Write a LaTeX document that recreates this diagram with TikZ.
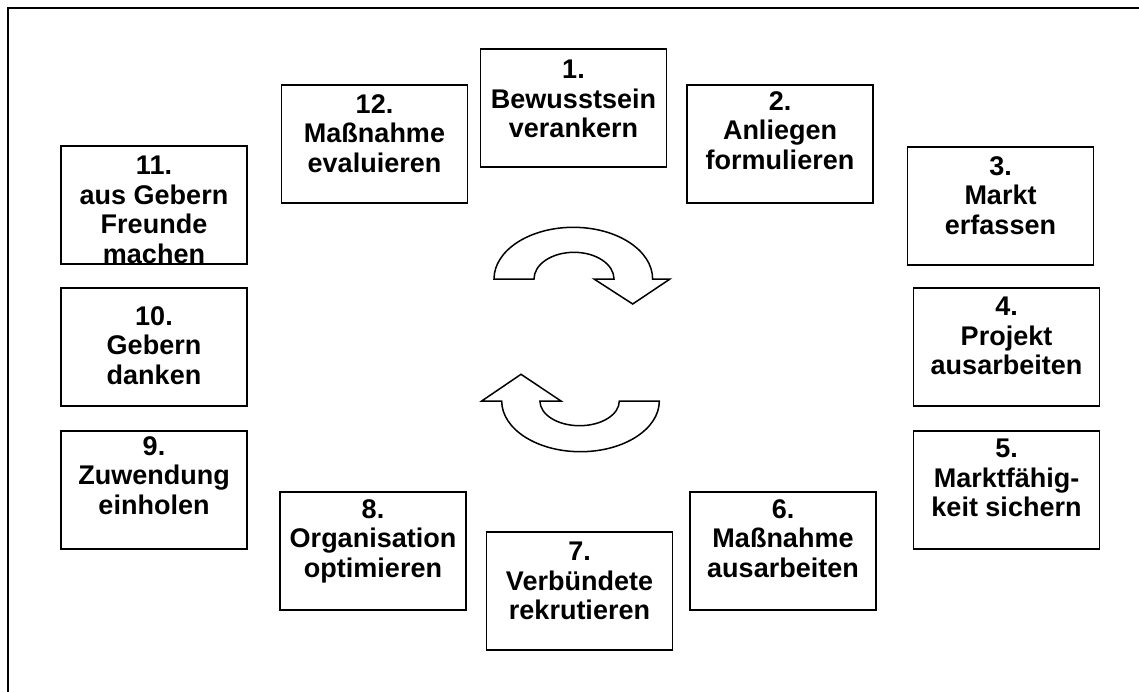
\documentclass[tikz,border=0pt]{standalone}
\usepackage{fontspec}
\setmainfont{Liberation Sans}
\begin{document}
\begin{tikzpicture}[x=1pt,y=-1pt,
  boxst/.style={draw=black,line width=1.8pt,minimum width=186pt,minimum height=118pt,inner sep=0pt},
  txt/.style={align=center,inner sep=0pt,anchor=north,font=\fontsize{27}{29.5}\selectfont\bfseries},
  cyc/.style={draw=black,line width=1.5pt,line join=miter,fill=white}]
\useasboundingbox (0,0) rectangle (1139,691);
% frame
\draw[line width=2pt] (8,700) -- (8,8) -- (1145,8);
% boxes
\node[boxst] (b1)  at (573.5,108) {};
\node[boxst] (b2)  at (780,144) {};
\node[boxst] (b3)  at (1000.5,206) {};
\node[boxst] (b4)  at (1006.5,347) {};
\node[boxst] (b5)  at (1006.5,490) {};
\node[boxst] (b6)  at (783,551) {};
\node[boxst] (b7)  at (579.5,591) {};
\node[boxst] (b8)  at (373,551) {};
\node[boxst] (b9)  at (154,490) {};
\node[boxst] (b10) at (154,347) {};
\node[boxst] (b11) at (154,205) {};
\node[boxst] (b12) at (374.5,144) {};
% texts
\node[txt] (t1)  at ([yshift=-12pt]b1.north)  {1.\\Bewusstsein\\verankern};
\node[txt] (t2)  at ([yshift=-7pt]b2.north)   {2.\\Anliegen\\formulieren};
\node[txt] (t3)  at ([yshift=-10pt]b3.north)  {3.\\Markt\\erfassen};
\node[txt] (t4)  at ([yshift=-10pt]b4.north)  {4.\\Projekt\\ausarbeiten};
\node[txt] (t5)  at ([yshift=-9pt]b5.north)   {5.\\Marktfähig-\\keit sichern};
\node[txt] (t6)  at ([yshift=-8pt]b6.north)   {6.\\Maßnahme\\ausarbeiten};
\node[txt] (t7)  at ([yshift=-11pt]b7.north)  {7.\\Verbündete\\rekrutieren};
\node[txt] (t8)  at ([yshift=-8pt]b8.north)   {8.\\Organisation\\optimieren};
\node[txt] (t9)  at ([yshift=-6pt]b9.north)   {9.\\Zuwendung\\einholen};
\node[txt] (t10) at ([yshift=-19pt]b10.north) {10.\\Gebern\\danken};
\node[txt] (t11) at ([yshift=-11pt]b11.north) {11.\\aus Gebern\\Freunde\\machen};
\node[txt] (t12) at ([yshift=-10pt]b12.north) {12.\\Maßnahme\\evaluieren};
% cycle arrows
\draw[cyc] (494,279) arc[start angle=180,end angle=0,x radius=79.3pt,y radius=51.7pt]
  -- (670,279) -- (632.7,304) -- (594,279) -- (614,279)
  arc[start angle=0,end angle=180,x radius=40pt,y radius=26.7pt] -- cycle;
\draw[cyc] (501.7,401) arc[start angle=180,end angle=360,x radius=78.8pt,y radius=50.7pt]
  -- (619.3,401)
  arc[start angle=0,end angle=-180,x radius=39.7pt,y radius=24.7pt]
  -- (561,401) -- (521,374.3) -- (481.7,401) -- cycle;
\end{tikzpicture}
\end{document}
